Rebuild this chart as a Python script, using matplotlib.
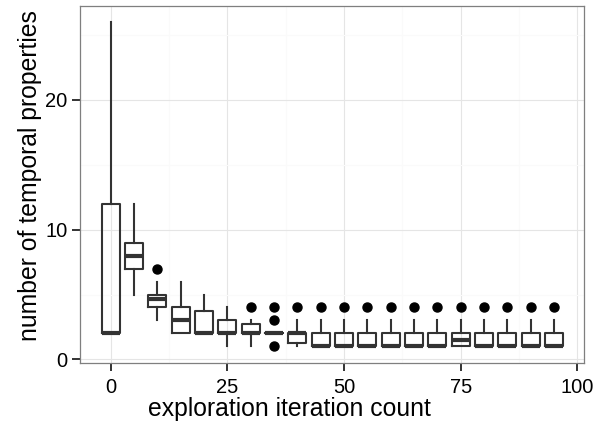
import matplotlib
matplotlib.use("Agg")
import matplotlib.pyplot as plt
from matplotlib.ticker import MultipleLocator

iterations = [0, 5, 10, 15, 20, 25, 30, 35, 40, 45, 50, 55, 60, 65, 70, 75, 80, 85, 90, 95]
whislo = [2, 5, 3, 2, 2, 1, 1, 2, 1, 1, 1, 1, 1, 1, 1, 1, 1, 1, 1, 1]
q1 = [2, 7, 4, 2, 2, 2, 2, 2, 1.25, 1, 1, 1, 1, 1, 1, 1, 1, 1, 1, 1]
med = [2, 8, 4.67, 3, 2, 2, 2, 2, 2, 1, 1, 1, 1, 1, 1, 1.5, 1, 1, 1, 1]
q3 = [12, 9, 5, 4, 3.75, 3, 2.75, 2, 2, 2, 2, 2, 2, 2, 2, 2, 2, 2, 2, 2]
whishi = [26, 12, 6, 6, 5, 4, 3, 2, 3, 3, 3, 3, 3, 3, 3, 3, 3, 3, 3, 3]
outliers = [[], [], [7], [], [], [], [4], [1, 3, 4], [4], [4], [4], [4], [4], [4],
            [4], [4], [4], [4], [4], [4]]

stats = []
for i in range(len(iterations)):
    stats.append({"whislo": whislo[i], "q1": q1[i], "med": med[i], "q3": q3[i],
                  "whishi": whishi[i], "fliers": outliers[i]})

plt.rcParams["font.family"] = ["Liberation Sans", "DejaVu Sans"]

fig = plt.figure(figsize=(6.05, 4.26), dpi=100)
ax = fig.add_axes([80 / 605, 1 - 362.7 / 426, 504 / 605, 357.2 / 426])

line = "#333333"
ax.bxp(stats, positions=iterations, widths=3.85, patch_artist=False,
       boxprops=dict(color=line, linewidth=1.5),
       whiskerprops=dict(color=line, linewidth=1.5),
       capprops=dict(linewidth=0),
       medianprops=dict(color=line, linewidth=3.0),
       flierprops=dict(marker="o", markerfacecolor="black", markeredgecolor="black",
                       markersize=6.5))

ax.set_xlim(-6.6, 101.4)
ax.set_ylim(-0.25, 27.25)
ax.set_xticks([0, 25, 50, 75, 100])
ax.set_xticklabels(["0", "25", "50", "75", "100"])
ax.xaxis.set_minor_locator(MultipleLocator(12.5))
ax.yaxis.set_major_locator(MultipleLocator(10))
ax.yaxis.set_minor_locator(MultipleLocator(5))

ax.grid(which="major", color="#E5E5E5", linewidth=0.8)
ax.grid(which="minor", color="#FAFAFA", linewidth=0.8)
ax.set_axisbelow(True)
for s in ax.spines.values():
    s.set_color("#7F7F7F")
    s.set_linewidth(0.9)

ax.tick_params(which="major", direction="out", length=5.5, width=1.4, color="#333333",
               labelsize=14.5, labelcolor="black", pad=3.5)
ax.tick_params(axis="x", which="major", pad=5.5)
ax.tick_params(which="minor", length=0)

ax.set_xlabel("exploration iteration count", fontsize=17.8, labelpad=0)
ax.set_ylabel("number of temporal properties", fontsize=17.8, labelpad=2)
ax.xaxis.label.set_x(0.415)
ax.yaxis.label.set_y(0.525)

fig.savefig("out.png", dpi=100)
